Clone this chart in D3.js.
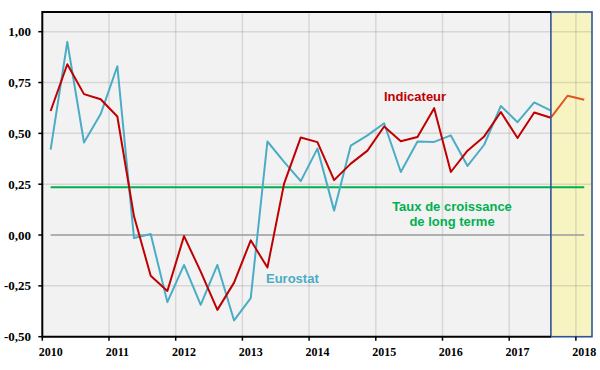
<!DOCTYPE html>
<html lang="fr">
  <head>
    <meta charset="utf-8">
    <title>Indicateur vs Eurostat</title>
    <style>
      body { margin:0; background:#fff; }
      svg { display:block; }
    </style>
  </head>
  <body>
    <svg></svg>
    <script src="https://cdn.jsdelivr.net/npm/d3@7"></script>
    <script>
    // data
    var quarters = ["2010T1","2010T2","2010T3","2010T4","2011T1","2011T2","2011T3","2011T4",
                    "2012T1","2012T2","2012T3","2012T4","2013T1","2013T2","2013T3","2013T4",
                    "2014T1","2014T2","2014T3","2014T4","2015T1","2015T2","2015T3","2015T4",
                    "2016T1","2016T2","2016T3","2016T4","2017T1","2017T2","2017T3","2017T4","2018T1"];
    var eurostat = [0.42,0.95,0.455,0.595,0.83,-0.015,0.005,-0.33,-0.147,-0.343,-0.147,-0.42,
                    -0.31,0.46,0.36,0.265,0.425,0.12,0.44,0.49,0.55,0.31,0.46,0.458,
                    0.49,0.34,0.444,0.635,0.555,0.652,0.612];
    var indicateur = [0.61,0.84,0.693,0.668,0.583,0.092,-0.20,-0.275,-0.005,-0.18,-0.368,-0.234,
                      -0.026,-0.16,0.253,0.48,0.457,0.27,0.351,0.415,0.534,0.461,0.482,0.624,
                      0.31,0.415,0.485,0.605,0.477,0.603,0.577,0.685,0.665];
    var longTerm = 0.235;
    var yTicks = [-0.5,-0.25,0,0.25,0.5,0.75,1.0];
    var xYears = [2010,2011,2012,2013,2014,2015,2016,2017,2018];
    var forecastFrom = "2017T3";

    var width = 600, height = 370;
    var svg = d3.select("svg").attr("width", width).attr("height", height);
    var serif = "'Liberation Serif','Times New Roman','DejaVu Serif',serif";
    var sans = "'Liberation Sans',Arial,sans-serif";

    var x = d3.scaleLinear().domain([2010, 2018]).range([42.3, 575.9]);
    var y = d3.scaleLinear().domain([-0.5, 1.0]).range([336.7, 31.7]);
    var fmt = function(v){ return d3.format(".2f")(v).replace(".", ",").replace("\u2212", "-"); };

    // quarter midpoint
    function qx(q){ return x(+q.slice(0,4) + (+q.slice(5)-1)*0.25 + 0.125); }

    var pLeft = x(2010), pTop = y(1.097), pBottom = y(-0.5);
    var fx = qx(forecastFrom), pRight = 592;

    // plot background
    svg.append("rect").attr("x", pLeft).attr("y", pTop).attr("width", fx-pLeft).attr("height", pBottom-pTop).attr("fill", "#f2f2f2");
    svg.append("rect").attr("x", fx).attr("y", pTop).attr("width", pRight-fx).attr("height", pBottom-pTop).attr("fill", "#f7f4c2");

    // grid
    var grid = svg.append("g").attr("stroke", "rgba(0,0,0,0.11)").attr("stroke-width", 1.5);
    grid.selectAll(".h").data(yTicks.filter(function(d){ return d != 0; })).enter().append("line")
      .attr("x1", pLeft).attr("x2", pRight).attr("y1", function(d){ return y(d); }).attr("y2", function(d){ return y(d); });
    grid.selectAll(".v").data(xYears.slice(1)).enter().append("line")
      .attr("y1", pTop).attr("y2", pBottom).attr("x1", function(d){ return x(d); }).attr("x2", function(d){ return x(d); });

    // zero line
    svg.append("line").attr("x1", qx(quarters[0])).attr("x2", qx(quarters[quarters.length-1]))
      .attr("y1", y(0)).attr("y2", y(0)).attr("stroke", "#9a9a9a").attr("stroke-width", 1.5);

    // long term growth
    svg.append("line").attr("x1", qx(quarters[0])).attr("x2", qx(quarters[quarters.length-1]))
      .attr("y1", y(longTerm)).attr("y2", y(longTerm)).attr("stroke", "#00b050").attr("stroke-width", 2);

    var line = d3.line().x(function(d){ return qx(d.q); }).y(function(d){ return y(d.v); });
    var eu = eurostat.map(function(v,i){ return {q:quarters[i], v:v}; });
    var ind = indicateur.map(function(v,i){ return {q:quarters[i], v:v}; });
    var k = quarters.indexOf(forecastFrom);

    svg.append("path").datum(eu).attr("d", line).attr("fill", "none").attr("stroke", "#4bacc6").attr("stroke-width", 2).attr("stroke-linejoin", "round");
    svg.append("path").datum(ind.slice(0, k+1)).attr("d", line).attr("fill", "none").attr("stroke", "#c00000").attr("stroke-width", 2).attr("stroke-linejoin", "round");
    svg.append("path").datum(ind.slice(k)).attr("d", line).attr("fill", "none").attr("stroke", "#e0561e").attr("stroke-width", 2).attr("stroke-linejoin", "round");

    // forecast box
    svg.append("rect").attr("x", fx).attr("y", pTop).attr("width", pRight-fx).attr("height", pBottom-pTop)
      .attr("fill", "none").attr("stroke", "#2f5597").attr("stroke-width", 1.6);

    // axes borders
    svg.append("line").attr("x1", pLeft).attr("x2", fx).attr("y1", pTop).attr("y2", pTop).attr("stroke", "#000").attr("stroke-width", 2);
    svg.append("line").attr("x1", pLeft).attr("x2", fx).attr("y1", pBottom).attr("y2", pBottom).attr("stroke", "#000").attr("stroke-width", 2);
    svg.append("line").attr("x1", pLeft).attr("x2", pLeft).attr("y1", pTop-1).attr("y2", pBottom+1).attr("stroke", "#000").attr("stroke-width", 2);

    // y ticks
    var yt = svg.append("g");
    yt.selectAll("line").data(yTicks).enter().append("line")
      .attr("x1", pLeft-4).attr("x2", pLeft).attr("y1", function(d){ return y(d); }).attr("y2", function(d){ return y(d); })
      .attr("stroke", "#000").attr("stroke-width", 1.5);
    yt.selectAll("text").data(yTicks).enter().append("text")
      .attr("x", 31).attr("y", function(d){ return y(d); }).attr("dy", "0.35em").attr("text-anchor", "end")
      .attr("font-family", serif).attr("font-weight", "bold").attr("font-size", 13)
      .text(fmt);

    // x ticks
    var xt = svg.append("g");
    xt.selectAll("line").data(xYears).enter().append("line")
      .attr("x1", function(d){ return x(d); }).attr("x2", function(d){ return x(d); }).attr("y1", pBottom).attr("y2", pBottom+4)
      .attr("stroke", "#000").attr("stroke-width", 1.5);
    xt.selectAll("text").data(xYears).enter().append("text")
      .attr("x", function(d){ return x(d + 0.125); }).attr("y", 356).attr("text-anchor", "middle")
      .attr("font-family", serif).attr("font-weight", "bold").attr("font-size", 12)
      .text(function(d){ return d; });

    // labels
    function note(t, xx, yy, c, anchor){
      svg.append("text").attr("x", xx).attr("y", yy).attr("fill", c).attr("text-anchor", anchor || "start")
        .attr("font-family", sans).attr("font-weight", "bold").attr("font-size", 13).text(t);
    }
    note("Indicateur", 384, 101, "#c00000");
    note("Eurostat", 266, 283, "#4bacc6");
    note("Taux de croissance", 452, 211, "#00b050", "middle");
    note("de long terme", 452, 226, "#00b050", "middle");
    </script>
  </body>
</html>
